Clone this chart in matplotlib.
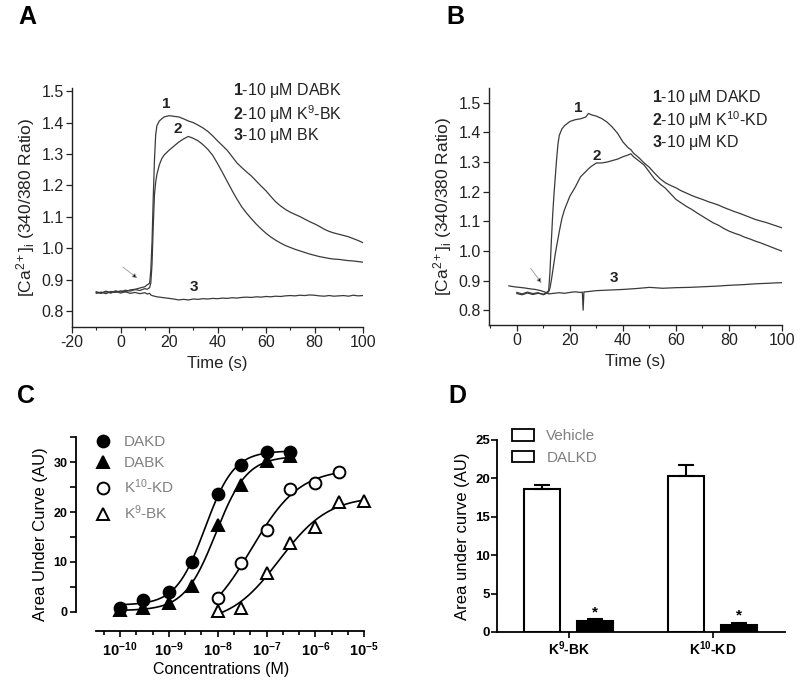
import numpy as np
import matplotlib
matplotlib.use("Agg")
import matplotlib.pyplot as plt
from matplotlib.lines import Line2D
from matplotlib.patches import Patch
from matplotlib.ticker import FixedLocator, MultipleLocator, NullFormatter

plt.rcParams['font.family'] = ['Liberation Sans', 'DejaVu Sans']
plt.rcParams['mathtext.fontset'] = 'custom'
plt.rcParams['mathtext.rm'] = 'Liberation Sans'
plt.rcParams['mathtext.it'] = 'Liberation Sans:italic'
plt.rcParams['mathtext.bf'] = 'Liberation Sans:bold'
plt.rcParams['axes.unicode_minus'] = False

# ---- panel A : calcium traces (BK analogues) ----
a_time = [-10, -8, -6, -4, -2, 0, 2, 4, 6, 8, 10, 11, 12, 12.5, 13, 13.5, 14, 14.5, 15, 16, 17, 18,
          20, 22, 24, 26, 28, 30, 32, 34, 36, 38, 40, 42, 44, 46, 48, 50, 52, 54, 56, 58, 60, 62, 64,
          66, 68, 70, 72, 74, 76, 78, 80, 82, 84, 86, 88, 90, 92, 94, 96, 98, 100]
a_dabk = [0.857, 0.861, 0.856, 0.863, 0.860, 0.865, 0.862, 0.868, 0.870, 0.874, 0.878, 0.884, 0.889,
          0.930, 1.020, 1.160, 1.280, 1.360, 1.390, 1.405, 1.412, 1.418, 1.422, 1.420, 1.418, 1.412,
          1.405, 1.400, 1.392, 1.383, 1.372, 1.358, 1.342, 1.327, 1.312, 1.292, 1.272, 1.257, 1.243,
          1.230, 1.214, 1.198, 1.183, 1.165, 1.148, 1.135, 1.124, 1.115, 1.108, 1.101, 1.093, 1.085,
          1.078, 1.070, 1.061, 1.054, 1.049, 1.045, 1.041, 1.037, 1.031, 1.025, 1.018]
a_k9bk = [0.862, 0.858, 0.864, 0.859, 0.865, 0.861, 0.867, 0.864, 0.869, 0.866, 0.872, 0.870, 0.875,
          0.890, 0.950, 1.070, 1.170, 1.210, 1.235, 1.265, 1.285, 1.297, 1.312, 1.325, 1.338, 1.348,
          1.356, 1.350, 1.342, 1.330, 1.315, 1.296, 1.270, 1.242, 1.213, 1.184, 1.157, 1.132, 1.112,
          1.094, 1.077, 1.062, 1.048, 1.036, 1.026, 1.017, 1.009, 1.003, 0.997, 0.992, 0.987, 0.982,
          0.978, 0.974, 0.971, 0.968, 0.966, 0.965, 0.963, 0.961, 0.960, 0.958, 0.956]
a_bk = [0.860, 0.857, 0.862, 0.858, 0.863, 0.858, 0.862, 0.857, 0.860, 0.856, 0.859, 0.855, 0.857,
        0.852, 0.850, 0.849, 0.848, 0.847, 0.846, 0.845, 0.844, 0.843, 0.841, 0.839, 0.836, 0.838,
        0.836, 0.839, 0.838, 0.840, 0.839, 0.841, 0.840, 0.842, 0.841, 0.843, 0.842, 0.844, 0.845,
        0.844, 0.846, 0.845, 0.847, 0.846, 0.848, 0.847, 0.849, 0.850, 0.849, 0.851, 0.850, 0.852,
        0.851, 0.849, 0.848, 0.850, 0.848, 0.849, 0.850, 0.848, 0.851, 0.849, 0.850]

# ---- panel B : calcium traces (KD analogues) ----
b_time = [0, 2, 4, 6, 8, 10, 11, 12, 12.5, 13, 13.5, 14, 14.5, 15, 15.5, 16, 17, 18, 20, 22, 24, 26,
          27, 28, 30, 32, 34, 36, 38, 40, 42, 43, 44, 46, 48, 50, 52, 54, 56, 58, 60, 62, 64, 66, 68,
          70, 72, 74, 76, 78, 80, 82, 84, 86, 88, 90, 92, 94, 96, 98, 100]
b_dakd = [0.856, 0.852, 0.858, 0.853, 0.857, 0.854, 0.858, 0.866, 0.930, 1.030, 1.120, 1.190, 1.250,
          1.310, 1.360, 1.390, 1.412, 1.423, 1.437, 1.443, 1.446, 1.452, 1.464, 1.460, 1.455, 1.447,
          1.435, 1.418, 1.397, 1.368, 1.348, 1.342, 1.330, 1.315, 1.297, 1.282, 1.262, 1.244, 1.230,
          1.221, 1.213, 1.203, 1.195, 1.187, 1.180, 1.174, 1.167, 1.161, 1.155, 1.147, 1.140, 1.133,
          1.127, 1.120, 1.113, 1.106, 1.101, 1.096, 1.090, 1.084, 1.078]
b_k10kd = [0.860, 0.855, 0.861, 0.856, 0.859, 0.852, 0.856, 0.862, 0.875, 0.900, 0.930, 0.960, 0.990,
           1.016, 1.040, 1.065, 1.110, 1.140, 1.185, 1.215, 1.250, 1.268, 1.277, 1.285, 1.297, 1.297,
           1.300, 1.305, 1.310, 1.318, 1.324, 1.328, 1.318, 1.304, 1.290, 1.266, 1.242, 1.226, 1.212,
           1.193, 1.174, 1.162, 1.150, 1.140, 1.128, 1.117, 1.106, 1.095, 1.087, 1.076, 1.067, 1.060,
           1.054, 1.046, 1.040, 1.033, 1.027, 1.020, 1.013, 1.006, 0.999]
b_time_kd = [-3, -1, 1, 3, 5, 7, 9, 11, 12, 14, 16, 18, 20, 22, 24, 24.7, 25, 25.3, 26, 28, 30, 35,
             40, 45, 50, 55, 60, 65, 70, 75, 80, 85, 90, 95, 100]
b_kd = [0.882, 0.879, 0.877, 0.875, 0.872, 0.870, 0.866, 0.860, 0.855, 0.857, 0.859, 0.857, 0.860,
        0.862, 0.860, 0.861, 0.800, 0.862, 0.862, 0.864, 0.866, 0.868, 0.870, 0.873, 0.877, 0.874,
        0.876, 0.877, 0.879, 0.881, 0.884, 0.886, 0.889, 0.891, 0.893]

# ---- panel C : concentration-response ----
conc_dak = [1e-10, 3e-10, 1e-9, 3e-9, 1e-8, 3e-8, 1e-7, 3e-7]
auc_dakd = [0.7, 2.3, 4.0, 10.0, 23.6, 29.5, 32.1, 32.1]
auc_dabk = [0.3, 0.7, 1.7, 5.2, 17.4, 25.4, 30.2, 31.2]
conc_k10 = [1e-8, 3e-8, 1e-7, 3e-7, 1e-6, 3e-6]
auc_k10kd = [2.7, 9.8, 16.4, 24.6, 25.8, 28.1]
conc_k9 = [1e-8, 3e-8, 1e-7, 3e-7, 1e-6, 3e-6, 1e-5]
auc_k9bk = [0.2, 0.7, 7.8, 13.7, 17.0, 22.1, 22.2]

# ---- panel D : bars ----
groups = ['K$^{\\mathbf{9}}$-BK', 'K$^{\\mathbf{10}}$-KD']
vehicle = [18.6, 20.3]
vehicle_err = [0.55, 1.45]
dalkd = [1.43, 0.91]
dalkd_err = [0.26, 0.30]


def hill_fit(conc, resp):
    # least squares 4-parameter logistic, grid over logEC50 / slope
    lx = np.log10(conc)
    y = np.asarray(resp, float)
    ecs = np.arange(lx.min() - 0.5, lx.max() + 0.5, 0.01)
    hs = np.arange(0.4, 3.0, 0.02)
    s = 1.0 / (1.0 + 10 ** ((ecs[:, None, None] - lx[None, None, :]) * hs[None, :, None]))
    sm = s.mean(-1, keepdims=True)
    ym = y.mean()
    slope = ((s - sm) * (y - ym)).sum(-1) / ((s - sm) ** 2).sum(-1)
    icpt = ym - slope * sm[..., 0]
    err = ((icpt[..., None] + slope[..., None] * s - y) ** 2).sum(-1)
    i, j = np.unravel_index(np.argmin(err), err.shape)
    xx = np.linspace(lx.min(), lx.max(), 200)
    yy = icpt[i, j] + slope[i, j] / (1 + 10 ** ((ecs[i] - xx) * hs[j]))
    return 10 ** xx, yy


fig = plt.figure(figsize=(8, 6.81), dpi=100)
W, H = 800, 681


def px_axes(x0, y0, x1, y1):
    return fig.add_axes([x0 / W, 1 - y1 / H, (x1 - x0) / W, (y1 - y0) / H])


trace_col = '#3a3a3a'
txt_col = '#222222'

# ---------------- A ----------------
axA = px_axes(72, 88, 363, 327)
axA.plot(a_time, a_bk, color=trace_col, lw=0.9)
axA.plot(a_time, a_k9bk, color=trace_col, lw=0.9)
axA.plot(a_time, a_dabk, color=trace_col, lw=0.9)
axA.set_xlim(-20, 100)
axA.set_ylim(0.75, 1.51)
axA.set_xticks([-20, 0, 20, 40, 60, 80, 100])
axA.set_yticks([0.8, 0.9, 1.0, 1.1, 1.2, 1.3, 1.4, 1.5])
axA.yaxis.set_major_formatter(matplotlib.ticker.FormatStrFormatter('%.1f'))
axA.annotate('', xy=(7.8, 0.900), xytext=(0.1, 0.946),
             arrowprops=dict(arrowstyle='-|>', color='#999999', lw=0.6, mutation_scale=7,
                             fc='black', ec='#999999'))
axA.text(18.75, 1.458, '1', fontsize=11, fontweight='bold', ha='center', va='center', color=txt_col)
axA.text(23.75, 1.379, '2', fontsize=11, fontweight='bold', ha='center', va='center', color=txt_col)
axA.text(30.4, 0.876, '3', fontsize=11, fontweight='bold', ha='center', va='center', color=txt_col)
for yy, s in zip([0.989, 0.891, 0.803],
                 ['$\\mathbf{1}$-10 μM DABK', '$\\mathbf{2}$-10 μM K$^{9}$-BK', '$\\mathbf{3}$-10 μM BK']):
    axA.text(0.552, yy, s, transform=axA.transAxes, fontsize=11.5, va='center', color=txt_col)
axA.set_xlabel('Time (s)', fontsize=12, color=txt_col, labelpad=4)
axA.set_ylabel('[Ca$^{2+}$]$_{\\mathrm{i}}$ (340/380 Ratio)', fontsize=12.5, color=txt_col, labelpad=3)

# ---------------- B ----------------
axB = px_axes(489, 88, 782, 325)
axB.plot(b_time_kd, b_kd, color=trace_col, lw=0.9)
axB.plot(b_time, b_k10kd, color=trace_col, lw=0.9)
axB.plot(b_time, b_dakd, color=trace_col, lw=0.9)
axB.set_xlim(-10.5, 100)
axB.set_ylim(0.75, 1.55)
axB.set_xticks([0, 20, 40, 60, 80, 100])
axB.set_yticks([0.8, 0.9, 1.0, 1.1, 1.2, 1.3, 1.4, 1.5])
axB.yaxis.set_major_formatter(matplotlib.ticker.FormatStrFormatter('%.1f'))
axB.annotate('', xy=(9.9, 0.884), xytext=(4.6, 0.949),
             arrowprops=dict(arrowstyle='-|>', color='#999999', lw=0.6, mutation_scale=7,
                             fc='black', ec='#999999'))
axB.text(23.3, 1.483, '1', fontsize=11, fontweight='bold', ha='center', va='center', color=txt_col)
axB.text(30.2, 1.32, '2', fontsize=11, fontweight='bold', ha='center', va='center', color=txt_col)
axB.text(36.5, 0.909, '3', fontsize=11, fontweight='bold', ha='center', va='center', color=txt_col)
for yy, s in zip([0.958, 0.865, 0.772],
                 ['$\\mathbf{1}$-10 μM DAKD', '$\\mathbf{2}$-10 μM K$^{10}$-KD', '$\\mathbf{3}$-10 μM KD']):
    axB.text(0.555, yy, s, transform=axB.transAxes, fontsize=11.5, va='center', color=txt_col)
axB.set_xlabel('Time (s)', fontsize=12, color=txt_col, labelpad=4)
axB.set_ylabel('[Ca$^{2+}$]$_{\\mathrm{i}}$ (340/380 Ratio)', fontsize=12.5, color=txt_col, labelpad=3)

for ax in (axA, axB):
    for sp in ('top', 'right'):
        ax.spines[sp].set_visible(False)
    for sp in ('left', 'bottom'):
        ax.spines[sp].set_linewidth(1.0)
        ax.spines[sp].set_color('#222222')
    ax.xaxis.set_minor_locator(MultipleLocator(10))
    ax.tick_params(which='major', length=4, width=0.9, labelsize=11.5, colors='#222222', pad=2)
    ax.tick_params(which='minor', length=2.5, width=0.8, colors='#222222')

# ---------------- C ----------------
axC = px_axes(76, 437.4, 366.8, 631)
for (c, r, mk, mfc) in [(conc_k9, auc_k9bk, '^', 'white'), (conc_k10, auc_k10kd, 'o', 'white'),
                        (conc_dak, auc_dabk, '^', 'black'), (conc_dak, auc_dakd, 'o', 'black')]:
    fx, fy = hill_fit(np.array(c), r)
    axC.plot(fx, fy, color='black', lw=1.2, zorder=2)
    axC.plot(c, r, ls='none', marker=mk, ms=8.5 if mk == 'o' else 8, mfc=mfc, mec='black', mew=1.4,
             zorder=3, clip_on=False)
axC.set_xscale('log')
axC.set_xlim(10 ** -10.9, 10 ** -4.95)
axC.set_ylim(-3.9, 35)
axC.spines['top'].set_visible(False)
axC.spines['right'].set_visible(False)
axC.spines['left'].set_bounds(0, 35)
axC.spines['bottom'].set_bounds(10 ** -10.5, 10 ** -5)
for sp in ('left', 'bottom'):
    axC.spines[sp].set_linewidth(1.3)
axC.set_xticks([10.0 ** k for k in range(-10, -4)])
axC.set_xticklabels(['$\\mathbf{10^{%d}}$' % k for k in range(-10, -4)])
axC.xaxis.set_minor_locator(FixedLocator([10 ** (k / 3) for k in range(-31, -14) if k % 3 != 0]))
axC.xaxis.set_minor_formatter(NullFormatter())
axC.set_yticks([0, 10, 20, 30])
axC.yaxis.set_minor_locator(FixedLocator([5, 15, 25, 35]))
axC.tick_params(which='major', length=4, width=1.2, labelsize=9, pad=2)
axC.tick_params(axis='x', which='major', labelsize=10.5, pad=3)
axC.tick_params(which='minor', length=3, width=1.2)
axC.tick_params(axis='y', which='minor', length=4)
for lab in axC.get_yticklabels():
    lab.set_fontweight('bold')
axC.set_xlabel('Concentrations (M)', fontsize=11.5, labelpad=2)
axC.set_ylabel('Area Under Curve (AU)', fontsize=12, labelpad=4)
leg_h = [Line2D([], [], ls='none', marker='o', ms=8.5, mfc='black', mec='black', mew=1.4),
         Line2D([], [], ls='none', marker='^', ms=8, mfc='black', mec='black', mew=1.4),
         Line2D([], [], ls='none', marker='o', ms=8.5, mfc='white', mec='black', mew=1.4),
         Line2D([], [], ls='none', marker='^', ms=8, mfc='white', mec='black', mew=1.4)]
axC.legend(leg_h, ['DAKD', 'DABK', 'K$^{10}$-KD', 'K$^{9}$-BK'], loc='upper left',
           bbox_to_anchor=(94 / W, 1 - 435 / H), bbox_transform=fig.transFigure, frameon=False,
           fontsize=11, labelcolor='#808080', borderpad=0, borderaxespad=0, handlelength=1.2,
           handletextpad=0.75, labelspacing=0.48)

# ---------------- D ----------------
axD = px_axes(497, 440, 785, 632)
x = np.arange(len(groups))
axD.bar(x - 0.19, vehicle, width=0.25, color='white', edgecolor='black', lw=1.5, zorder=2,
        yerr=[[0, 0], vehicle_err], capsize=6, error_kw=dict(elinewidth=1.5, capthick=1.5, ecolor='black'))
axD.bar(x + 0.18, dalkd, width=0.25, color='black', edgecolor='black', lw=1.5, zorder=2,
        yerr=[[0, 0], dalkd_err], capsize=6, error_kw=dict(elinewidth=1.5, capthick=1.5, ecolor='black'))
for xi, v, e in zip(x, dalkd, dalkd_err):
    axD.text(xi + 0.18, v + e + 0.9, '*', ha='center', va='center', fontsize=11, fontweight='bold')
axD.set_xlim(-0.5, 1.5)
axD.set_ylim(0, 25)
axD.set_xticks(x)
axD.set_xticklabels(groups, fontsize=10, fontweight='bold')
axD.set_yticks([0, 5, 10, 15, 20, 25])
axD.spines['top'].set_visible(False)
axD.spines['right'].set_visible(False)
for sp in ('left', 'bottom'):
    axD.spines[sp].set_linewidth(1.3)
axD.tick_params(which='major', length=4, width=1.2, pad=1)
axD.tick_params(axis='y', labelsize=9.5)
for lab in axD.get_yticklabels():
    lab.set_fontweight('bold')
axD.set_ylabel('Area under curve (AU)', fontsize=12, labelpad=4)
axD.legend([Patch(facecolor='white', edgecolor='black', lw=1.3),
            Patch(facecolor='white', edgecolor='black', lw=1.3)], ['Vehicle', 'DALKD'],
           loc='upper left', bbox_to_anchor=(512 / W, 1 - 429 / H), bbox_transform=fig.transFigure,
           frameon=False, fontsize=11, labelcolor='#808080', borderpad=0, borderaxespad=0,
           handlelength=1.45, handleheight=0.8, handletextpad=0.8, labelspacing=0.5)

# panel letters
for lx, ly, s in [(27, 17.5, 'A'), (455, 17.5, 'B'), (26, 396, 'C'), (457, 396, 'D')]:
    fig.text(lx / W, 1 - ly / H, s, fontsize=18, fontweight='bold', ha='center', va='center')

fig.savefig('out.png', dpi=100)
